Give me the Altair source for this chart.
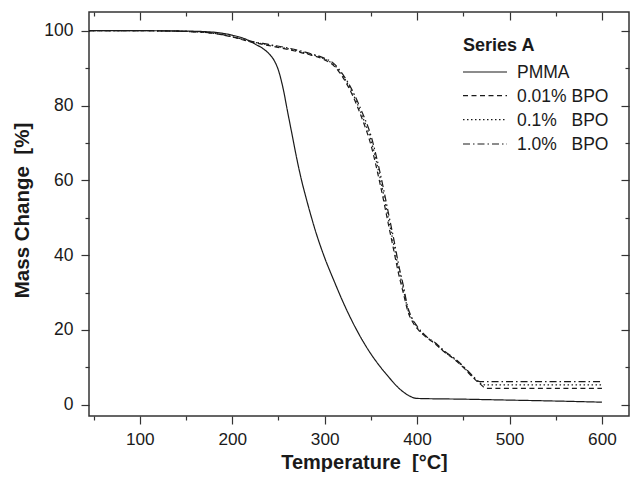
import altair as alt
import pandas as pd

# ---- data ----
series_names = ["PMMA", "0.01% BPO", "0.1% BPO", "1.0% BPO"]
legend_labels = ["PMMA", "0.01%\u00a0BPO", "0.1%\u00a0\u00a0\u00a0BPO", "1.0%\u00a0\u00a0\u00a0BPO"]

temps_pmma = [45, 100, 150, 180, 200, 215, 225, 235, 240, 245, 250, 255, 260, 265, 270, 275,
              280, 285, 290, 300, 310, 320, 330, 340, 350, 360, 370, 380, 390, 400, 450, 500,
              550, 600]
mass_pmma = [100, 100, 99.9, 99.6, 98.8, 97.7, 96.4, 94.9, 93.8, 92.2, 89.4, 84.6, 78.2, 71.9,
             65.6, 60.0, 55.2, 50.7, 46.5, 39.3, 33.2, 27.4, 22.2, 17.6, 13.6, 10.2, 7.2, 4.5,
             2.6, 1.7, 1.5, 1.25, 1.0, 0.7]

temps_bpo = [45, 100, 150, 180, 200, 220, 240, 260, 280, 300, 310, 320, 330, 340, 350, 360,
             370, 375, 380, 385, 390, 395, 400, 410, 420, 430, 440, 450, 460, 468, 475, 600]
mass_bpo_001 = [100, 100, 99.8, 99.3, 98.3, 97.0, 96.0, 95.0, 93.8, 92.2, 90.6, 87.4, 82.8,
                76.8, 69.5, 59.0, 47.0, 41.0, 35.0, 30.0, 25.0, 22.2, 20.4, 18.0, 16.2, 14.0,
                12.2, 10.0, 7.4, 5.6, 4.4, 4.4]
mass_bpo_01 = [100, 100, 99.8, 99.3, 98.4, 97.1, 96.2, 95.2, 94.0, 92.4, 90.9, 87.8, 83.4,
               77.6, 70.8, 60.6, 48.5, 42.5, 36.3, 31.0, 25.5, 22.6, 20.7, 18.2, 16.3, 14.1,
               12.3, 10.1, 7.6, 5.8, 5.3, 5.3]
mass_bpo_10 = [100, 100, 99.8, 99.3, 98.4, 97.2, 96.3, 95.4, 94.2, 92.6, 91.2, 88.2, 84.0,
               78.5, 72.0, 62.0, 50.0, 44.0, 37.5, 32.0, 26.0, 23.0, 21.0, 18.3, 16.5, 14.3,
               12.5, 10.3, 7.8, 6.2, 6.2, 6.2]

x_major = [100, 200, 300, 400, 500, 600]
x_minor = [50, 150, 250, 350, 450, 550]
y_major = [0, 20, 40, 60, 80, 100]
y_minor = [10, 30, 50, 70, 90]

# ---- long table ----
rows = []
for name, temps, mass in [
    (series_names[0], temps_pmma, mass_pmma),
    (series_names[1], temps_bpo, mass_bpo_001),
    (series_names[2], temps_bpo, mass_bpo_01),
    (series_names[3], temps_bpo, mass_bpo_10),
]:
    for i, (t, m) in enumerate(zip(temps, mass)):
        rows.append({"T": t, "M": m, "series": name, "order": i})
df = pd.DataFrame(rows)

FONT = "Liberation Sans"
INK = "#1a1a1a"
TICK = "#333333"
dashes = [[1, 0], [5, 3.5], [1.5, 2.5], [7, 3, 1.5, 3]]

xscale = alt.Scale(domain=[45, 629.3], nice=False, zero=False)
yscale = alt.Scale(domain=[-3, 105], nice=False, zero=False)

common = dict(grid=False, domain=False, tickColor=TICK, tickWidth=1.2, labelFlush=False,
              labelOverlap=False)


def minor_axis(orient, values, size, offset):
    return alt.Axis(orient=orient, values=values, tickSize=size, offset=offset, labels=False,
                    title=None, **common)


curves = alt.Chart(df).mark_line(color=INK, strokeWidth=1.2, interpolate="monotone").encode(
    x=alt.X("T:Q", scale=xscale, axis=alt.Axis(
        orient="bottom", values=x_major, tickSize=8, labelFont=FONT, labelFontSize=17.2,
        labelColor=INK, labelPadding=6.5, title="Temperature\u00a0\u00a0[°C]",
        titleFont=FONT, titleFontSize=20, titleFontWeight="bold", titleColor=INK,
        titleX=275, titleY=52, titleAlign="center", titleBaseline="alphabetic",
        **common)),
    y=alt.Y("M:Q", scale=yscale, axis=alt.Axis(
        orient="left", values=y_major, tickSize=8, labelFont=FONT, labelFontSize=17.5,
        labelColor=INK, labelPadding=8, title="Mass Change\u00a0\u00a0[%]",
        titleFont=FONT, titleFontSize=20.5, titleFontWeight="bold", titleColor=INK,
        titleX=-60.5, titleY=198, titleAlign="center", titleBaseline="alphabetic",
        **common)),
    strokeDash=alt.StrokeDash("series:N", scale=alt.Scale(domain=series_names, range=dashes),
                              legend=None),
    detail="series:N",
    order="order:Q",
)

ax_minor_bl = alt.Chart(df).mark_line(opacity=0).encode(
    x=alt.X("T:Q", scale=xscale, axis=minor_axis("bottom", x_minor, 4, 0)),
    y=alt.Y("M:Q", scale=yscale, axis=minor_axis("left", y_minor, 4, 0)),
    detail="series:N",
)
ax_major_tr = alt.Chart(df).mark_line(opacity=0).encode(
    x=alt.X("T:Q", scale=xscale, axis=minor_axis("top", x_major, 8, -8)),
    y=alt.Y("M:Q", scale=yscale, axis=minor_axis("right", y_major, 8, -8)),
    detail="series:N",
)
ax_minor_tr = alt.Chart(df).mark_line(opacity=0).encode(
    x=alt.X("T:Q", scale=xscale, axis=minor_axis("top", x_minor, 4, -4)),
    y=alt.Y("M:Q", scale=yscale, axis=minor_axis("right", y_minor, 4, -4)),
    detail="series:N",
)

one = pd.DataFrame({"k": [0]})
legend_layers = [
    alt.Chart(one).mark_text(text="Series A", font=FONT, fontSize=18, fontWeight="bold",
                             color=INK, align="left", baseline="alphabetic").encode(
        x=alt.value(374), y=alt.value(39))
]
row_y = [66, 89.7, 113.7, 138]
for lbl, dash, by in zip(legend_labels, dashes, row_y):
    rule_kwargs = dict(color=INK, strokeWidth=1.2)
    if dash != [1, 0]:
        rule_kwargs["strokeDash"] = dash
    legend_layers.append(
        alt.Chart(one).mark_rule(**rule_kwargs).encode(
            x=alt.value(374), x2=alt.value(418), y=alt.value(by - 6)))
    legend_layers.append(
        alt.Chart(one).mark_text(text=lbl, font=FONT, fontSize=17.5, color=INK, align="left",
                                 baseline="alphabetic").encode(
            x=alt.value(428), y=alt.value(by)))

chart = alt.layer(curves, ax_minor_bl, ax_major_tr, ax_minor_tr, *legend_layers).resolve_axis(
    x="independent", y="independent"
).properties(
    width=540, height=404,
    autosize=alt.AutoSizeParams(type="none"),
    padding={"left": 81, "top": 4, "right": 1, "bottom": 56},
    background="white",
).configure_view(stroke=TICK, strokeWidth=1.5)

chart.save("out.html", embed_options={"renderer": "svg", "actions": False})
